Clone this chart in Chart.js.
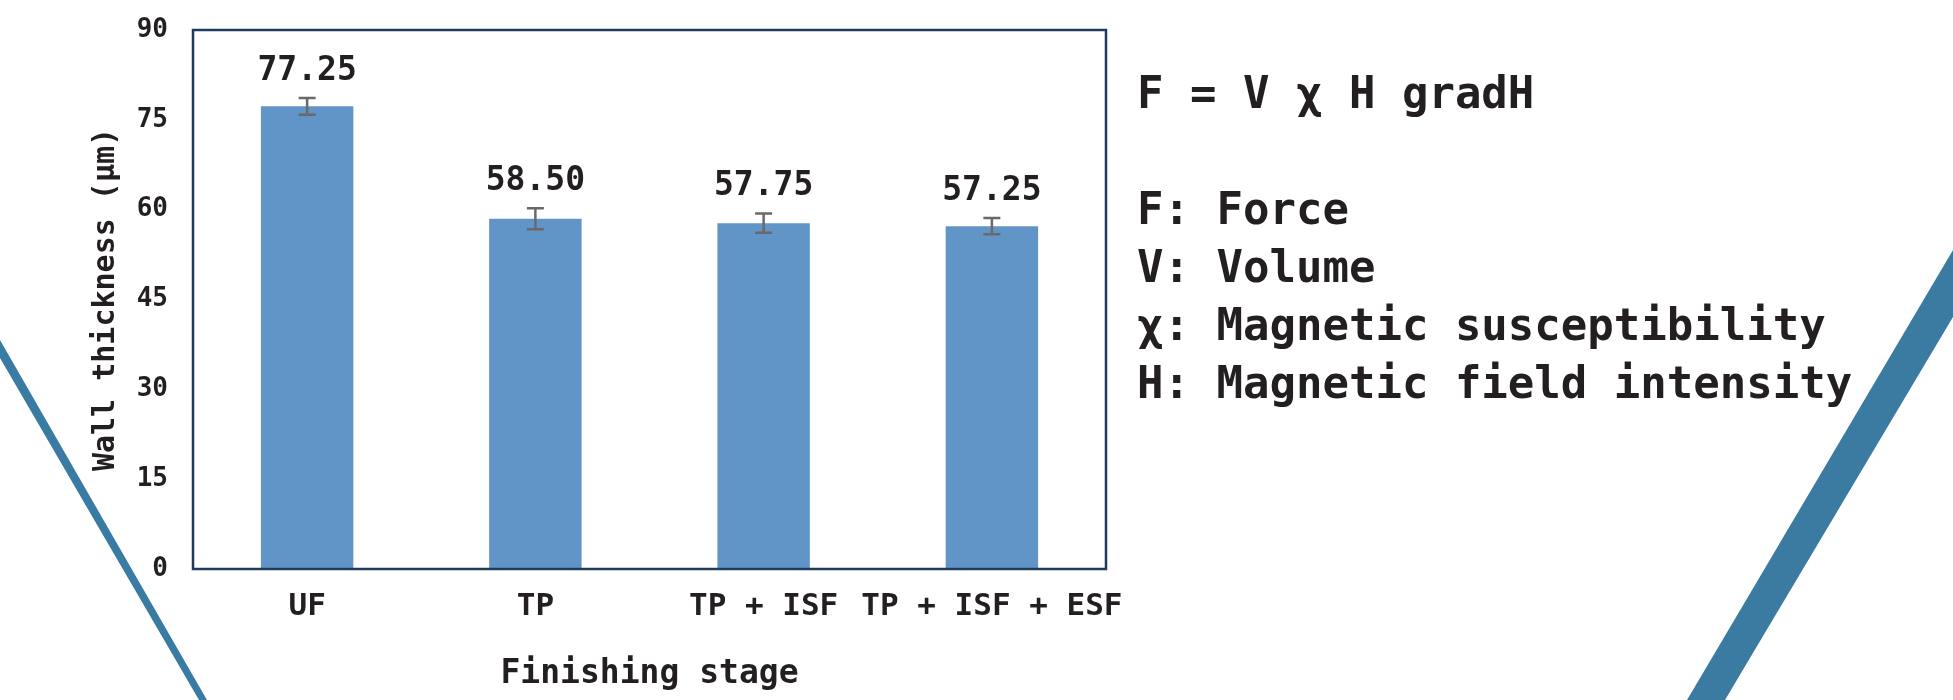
<!DOCTYPE html>
<html>
<head>
<meta charset="utf-8">
<title>Wall thickness by finishing stage</title>
<script src="https://cdn.jsdelivr.net/npm/chart.js@4.4.0/dist/chart.umd.min.js"></script>
<style>
  html, body { margin: 0; padding: 0; background: #fff; }
  #wrap { position: relative; width: 1953px; height: 700px; overflow: hidden; }
  #deco, #chart { position: absolute; left: 0; top: 0; }
  #notes {
    position: absolute; left: 1137px; top: 64px;
    font: bold 44px "DejaVu Sans Mono", monospace;
    line-height: 58px; color: #231f20; white-space: pre;
  }
</style>
</head>
<body>
<div id="wrap">
  <!-- decorative stripes from the slide background -->
  <svg id="deco" width="1953" height="700">
    <polygon points="0,340 207,700 199,700 0,358" fill="#3a7ba3"/>
    <polygon points="1953,250 1953,317 1725,700 1687,700" fill="#3b7ba2"/>
  </svg>
  <canvas id="chart" width="1953" height="700"></canvas>
  <div id="notes">F = V χ H gradH

F: Force
V: Volume
χ: Magnetic susceptibility
H: Magnetic field intensity</div>
</div>

<script>
const stages = ['UF', 'TP', 'TP + ISF', 'TP + ISF + ESF'];
const thickness = [77.25, 58.50, 57.75, 57.25];
const errors = [1.4, 1.75, 1.6, 1.35];
const yTicks = [0, 15, 30, 45, 60, 75, 90];

const FONT = '"DejaVu Sans Mono", monospace';
const INK = '#231f20';

Chart.defaults.font.family = FONT;
Chart.defaults.font.weight = 'bold';
Chart.defaults.color = INK;

// box round the plot area
const framePlugin = {
  id: 'frame',
  afterDatasetsDraw(chart) {
    const { ctx, chartArea: a } = chart;
    ctx.save();
    ctx.strokeStyle = '#1f3a5c';
    ctx.lineWidth = 2.5;
    ctx.strokeRect(a.left, a.top, a.right - a.left, a.bottom - a.top);
    ctx.restore();
  }
};

// error whiskers + value labels above them
const errorPlugin = {
  id: 'errorBars',
  afterDatasetsDraw(chart) {
    const { ctx } = chart;
    const y = chart.scales.y;
    const meta = chart.getDatasetMeta(0);
    ctx.save();
    meta.data.forEach((bar, i) => {
      const v = thickness[i], e = errors[i];
      const yTop = y.getPixelForValue(v + e);
      const yBot = y.getPixelForValue(v - e);
      ctx.strokeStyle = '#696969';
      ctx.lineWidth = 2.5;
      ctx.beginPath();
      ctx.moveTo(bar.x, yTop); ctx.lineTo(bar.x, yBot);
      ctx.moveTo(bar.x - 8.5, yTop); ctx.lineTo(bar.x + 8.5, yTop);
      ctx.moveTo(bar.x - 8.5, yBot); ctx.lineTo(bar.x + 8.5, yBot);
      ctx.stroke();

      ctx.fillStyle = INK;
      ctx.font = 'bold 33px ' + FONT;
      ctx.textAlign = 'center';
      ctx.textBaseline = 'middle';
      ctx.fillText(v.toFixed(2), bar.x, yTop - 27);
    });
    ctx.restore();
  }
};

new Chart(document.getElementById('chart'), {
  type: 'bar',
  data: {
    labels: stages,
    datasets: [{
      data: thickness,
      backgroundColor: '#6195c8',
      categoryPercentage: 1,
      barPercentage: 0.405
    }]
  },
  options: {
    responsive: false,
    animation: false,
    layout: { padding: { top: 30, right: 847, left: 0, bottom: 0 } },
    plugins: { legend: { display: false }, tooltip: { enabled: false } },
    scales: {
      y: {
        min: 0,
        max: 90,
        afterBuildTicks: s => { s.ticks = yTicks.map(v => ({ value: v })); },
        afterFit: s => { s.width = 193; s.paddingTop = 0; s.paddingBottom = 0; },
        grid: { display: false, drawTicks: false },
        border: { display: false },
        ticks: { padding: 25, color: INK, font: { size: 26, weight: 'bold' } },
        title: {
          display: true,
          text: 'Wall thickness (μm)',
          color: INK,
          font: { size: 30, weight: 'bold' },
          padding: { top: 88, bottom: 0 }
        }
      },
      x: {
        afterFit: s => { s.height = 131; s.paddingLeft = 0; s.paddingRight = 0; },
        grid: { display: false, drawTicks: false },
        border: { display: false },
        ticks: {
          padding: 19, color: INK, maxRotation: 0, minRotation: 0, autoSkip: false,
          font: { size: 31, weight: 'bold' }
        },
        title: {
          display: true,
          text: 'Finishing stage',
          color: INK,
          font: { size: 33, weight: 'bold' },
          padding: { top: 0, bottom: 6 }
        }
      }
    }
  },
  plugins: [framePlugin, errorPlugin]
});
</script>
</body>
</html>
